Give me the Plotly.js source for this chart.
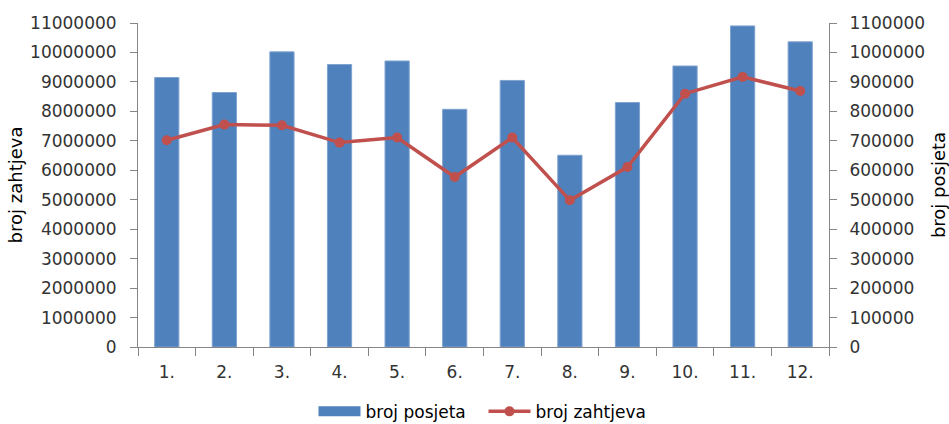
<!DOCTYPE html>
<html>
<head>
<meta charset="utf-8">
<script src="https://cdn.plot.ly/plotly-3.0.1.min.js"></script>
<style>html,body{margin:0;padding:0;background:#fff}#chart{width:949px;height:424px}</style>
</head>
<body>
<div id="chart"></div>
<script>
const categories = ["1.","2.","3.","4.","5.","6.","7.","8.","9.","10.","11.","12."];
const brojPosjeta = [915000, 864000, 1002000, 959000, 971000, 807000, 905000, 651000, 830000, 954000, 1090000, 1036000];
const brojZahtjeva = [7020000, 7550000, 7530000, 6940000, 7110000, 5770000, 7110000, 4980000, 6110000, 8600000, 9170000, 8690000];
const leftTicks = [0,1000000,2000000,3000000,4000000,5000000,6000000,7000000,8000000,9000000,10000000,11000000];
const rightTicks = [0,100000,200000,300000,400000,500000,600000,700000,800000,900000,1000000,1100000];

const fam = "DejaVu Sans, Verdana, sans-serif";
const font = {family: fam, size: 17, color: "#333333"};
const axisColor = "#868686";
const blue = "#4F81BD", red = "#C0504D";

const traces = [
  {
    type: "bar", name: "broj posjeta", x: categories, y: brojPosjeta, yaxis: "y",
    marker: {color: blue, line: {color: "#7FA3D0", width: 1}}, showlegend: false
  },
  {
    type: "scatter", mode: "lines", name: "broj posjeta", x: [null], y: [null], yaxis: "y",
    line: {color: blue, width: 12}, hoverinfo: "skip", showlegend: true
  },
  {
    type: "scatter", mode: "lines+markers", name: "broj zahtjeva", x: categories, y: brojZahtjeva, yaxis: "y2",
    line: {color: red, width: 3.5}, marker: {color: red, size: 10, symbol: "circle"}
  }
];

const layout = {
  width: 949, height: 424,
  margin: {l: 138, r: 120, t: 23, b: 77, autoexpand: false},
  paper_bgcolor: "#ffffff", plot_bgcolor: "#ffffff",
  font: font,
  bargap: 0.58,
  showlegend: true,
  legend: {orientation: "h", x: 0.5, xanchor: "center", xref: "paper", y: -0.2, yanchor: "middle",
           font: {family: fam, size: 17, color: "#000"}, itemwidth: 42, traceorder: "normal",
           entrywidth: 113, entrywidthmode: "pixels"},
  xaxis: {
    type: "category", range: [-0.5, 11.5], showline: true, linecolor: axisColor, linewidth: 1, automargin: false,
    ticks: "outside", tickson: "boundaries", ticklen: 8, tickcolor: axisColor,
    showgrid: false, zeroline: false, tickfont: font, ticklabelstandoff: 10
  },
  yaxis: {
    side: "right", range: [0, 1100000], tickvals: rightTicks, ticktext: rightTicks.map(String), automargin: false,
    showline: true, linecolor: axisColor, ticks: "outside", ticklen: 7, tickcolor: axisColor,
    showgrid: false, zeroline: false, tickfont: font, ticklabelstandoff: 9,
    title: {text: "broj posjeta", font: {family: fam, size: 18, color: "#000"}, standoff: 16}
  },
  yaxis2: {
    side: "left", overlaying: "y", range: [0, 11000000], tickvals: leftTicks, ticktext: leftTicks.map(String), automargin: false,
    showline: true, linecolor: axisColor, ticks: "outside", ticklen: 7, tickcolor: axisColor,
    showgrid: false, zeroline: false, tickfont: font, ticklabelstandoff: 10,
    title: {text: "broj zahtjeva", font: {family: fam, size: 18, color: "#000"}, standoff: 2}
  }
};

Plotly.newPlot("chart", traces, layout, {displayModeBar: false, staticPlot: true});
</script>
</body>
</html>
